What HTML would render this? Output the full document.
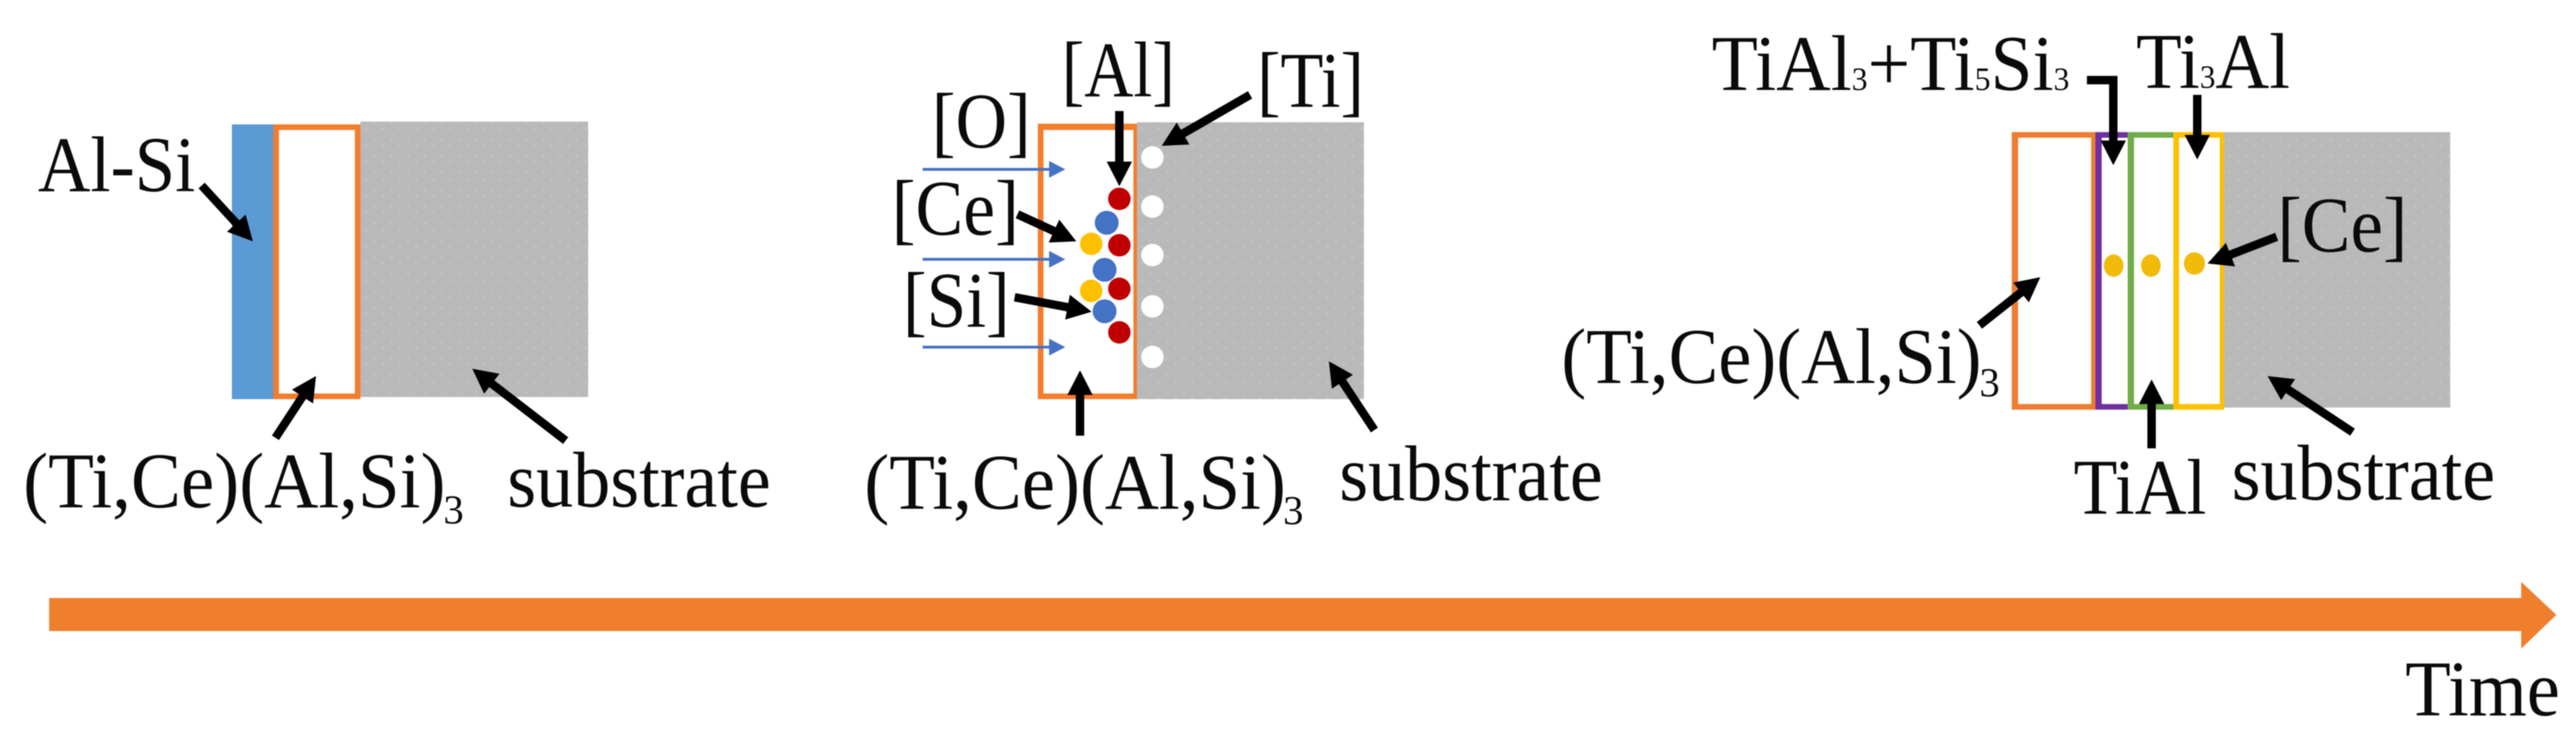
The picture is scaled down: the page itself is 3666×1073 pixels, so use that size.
<!DOCTYPE html>
<html><head><meta charset="utf-8"><style>
html,body{margin:0;padding:0;background:#fff}
svg{display:block;filter:blur(0.7px)}
text{font-family:"Liberation Serif",serif;font-size:112px;fill:#0a0a0a}
.s{font-size:58px}
.t{font-size:47px}
.a{stroke:#000;stroke-width:12;fill:none;marker-end:url(#h)}
.b{stroke:#4472c4;stroke-width:4;fill:none;marker-end:url(#bh)}
</style></head><body>
<svg width="3666" height="1073" viewBox="0 0 3666 1073" xmlns="http://www.w3.org/2000/svg">
<defs>
<marker id="h" markerUnits="userSpaceOnUse" markerWidth="40" markerHeight="40" refX="10" refY="20" orient="auto" viewBox="0 0 40 40"><polygon points="0,2 35,20 0,38" fill="#000"/></marker>
<marker id="bh" markerUnits="userSpaceOnUse" markerWidth="30" markerHeight="30" refX="2" refY="15" orient="auto" viewBox="0 0 30 30"><polygon points="0,3 23,15 0,27" fill="#4472c4"/></marker>
<pattern id="g" width="24" height="24" patternUnits="userSpaceOnUse"><rect width="24" height="24" fill="#b9b9b9"/><circle cx="5" cy="6" r="1.6" fill="#c6c6c6"/><circle cx="17" cy="15" r="1.6" fill="#c6c6c6"/><circle cx="13" cy="3" r="1.2" fill="#c3b6b8"/></pattern>
</defs>
<rect width="3666" height="1073" fill="#fff"/>

<!-- Panel 1 -->
<rect x="513" y="173" width="324" height="392" fill="url(#g)"/>
<rect x="330" y="177" width="59" height="391" fill="#5b9bd5"/>
<rect x="389" y="177" width="124" height="391" fill="#f47d2c"/>
<rect x="397" y="185" width="108" height="375" fill="#fff"/>
<text x="54" y="272" textLength="224" lengthAdjust="spacingAndGlyphs">Al-Si</text>
<text x="33" y="722" textLength="601" lengthAdjust="spacingAndGlyphs">(Ti,Ce)(Al,Si)</text>
<text x="631" y="745" class="s">3</text>
<text x="722" y="721" textLength="375" lengthAdjust="spacingAndGlyphs">substrate</text>
<path class="a" d="M287 264L343 325"/>
<path class="a" d="M392 623L436 556"/>
<path class="a" d="M805 627L692 540"/>

<!-- Panel 2 -->
<rect x="1618" y="174" width="323" height="394" fill="url(#g)"/>
<rect x="1477" y="176" width="141" height="392" fill="#f47d2c"/>
<rect x="1485" y="185" width="128" height="375" fill="#fff"/>
<g fill="#fff"><circle cx="1640" cy="224" r="16"/><circle cx="1640" cy="294" r="16"/><circle cx="1640" cy="363" r="16"/><circle cx="1640" cy="436" r="16"/><circle cx="1640" cy="508" r="16"/></g>
<g fill="#c00000"><circle cx="1593" cy="283" r="16"/><circle cx="1593" cy="349" r="16"/><circle cx="1593" cy="411" r="16"/><circle cx="1593" cy="473" r="16"/></g>
<g fill="#ffc000"><circle cx="1553" cy="347" r="16"/><circle cx="1553" cy="414" r="16"/></g>
<g fill="#4472c4"><circle cx="1575" cy="317" r="17"/><circle cx="1572" cy="384" r="17"/><circle cx="1572" cy="443" r="17"/></g>
<path class="b" d="M1313 241H1495"/>
<path class="b" d="M1313 369H1495"/>
<path class="b" d="M1313 494H1495"/>
<text x="1511" y="137" textLength="161" lengthAdjust="spacingAndGlyphs">[Al]</text>
<text x="1326" y="210" textLength="141" lengthAdjust="spacingAndGlyphs">[O]</text>
<text x="1789" y="152" textLength="152" lengthAdjust="spacingAndGlyphs">[Ti]</text>
<text x="1269" y="334" textLength="181" lengthAdjust="spacingAndGlyphs">[Ce]</text>
<text x="1285" y="465" textLength="152" lengthAdjust="spacingAndGlyphs">[Si]</text>
<text x="1230" y="724" textLength="600" lengthAdjust="spacingAndGlyphs">(Ti,Ce)(Al,Si)</text>
<text x="1826" y="746" class="s">3</text>
<text x="1906" y="712" textLength="375" lengthAdjust="spacingAndGlyphs">substrate</text>
<path class="a" d="M1593 158V240"/>
<path class="a" d="M1779 135L1675 195"/>
<path class="a" d="M1448 305L1509 333"/>
<path class="a" d="M1444 423L1529 439"/>
<path class="a" d="M1537 620V552"/>
<path class="a" d="M1956 612L1905 535"/>

<!-- Panel 3 -->
<rect x="3165" y="188" width="322" height="392" fill="url(#g)"/>
<rect x="2863" y="188" width="119" height="395" fill="#ed7d31"/>
<rect x="2872" y="196" width="104" height="379" fill="#fff"/>
<rect x="2982" y="188" width="46" height="395" fill="#7030a0"/>
<rect x="2991" y="196" width="37" height="379" fill="#fff"/>
<rect x="3028" y="188" width="65" height="395" fill="#70ad47"/>
<rect x="3037" y="196" width="56" height="379" fill="#fff"/>
<rect x="3093" y="188" width="72" height="395" fill="#ffc000"/>
<rect x="3101" y="196" width="58" height="379" fill="#fff"/>
<g fill="#f2bb0a"><ellipse cx="3008" cy="378" rx="14" ry="16"/><ellipse cx="3061" cy="378" rx="14" ry="16"/><ellipse cx="3123" cy="375" rx="15" ry="16"/></g>
<text x="2436" y="128" textLength="509" lengthAdjust="spacingAndGlyphs">TiAl<tspan class="t">3</tspan>+Ti<tspan class="t">5</tspan>Si<tspan class="t">3</tspan></text>
<text x="3040" y="125" textLength="219" lengthAdjust="spacingAndGlyphs">Ti<tspan class="t">3</tspan>Al</text>
<text x="3241" y="358" textLength="185" lengthAdjust="spacingAndGlyphs">[Ce]</text>
<text x="2951" y="731" textLength="189" lengthAdjust="spacingAndGlyphs">TiAl</text>
<text x="3176" y="711" textLength="375" lengthAdjust="spacingAndGlyphs">substrate</text>
<text x="2222" y="545" textLength="598" lengthAdjust="spacingAndGlyphs">(Ti,Ce)(Al,Si)</text>
<text x="2817" y="564" class="s">3</text>
<path class="a" d="M2970 114H3007.5V210"/>
<path class="a" d="M3127 135V202"/>
<path class="a" d="M3240 337L3165 366"/>
<path class="a" d="M2817 463L2884 410"/>
<path class="a" d="M3062 638V565"/>
<path class="a" d="M3348 615L3248 549"/>

<!-- Time arrow -->
<polygon points="70,851 3588,851 3588,828 3638,875 3588,923 3588,898 70,898" fill="#ef7e2d"/>
<text x="3423" y="1018" textLength="220" lengthAdjust="spacingAndGlyphs">Time</text>
</svg>
</body></html>
